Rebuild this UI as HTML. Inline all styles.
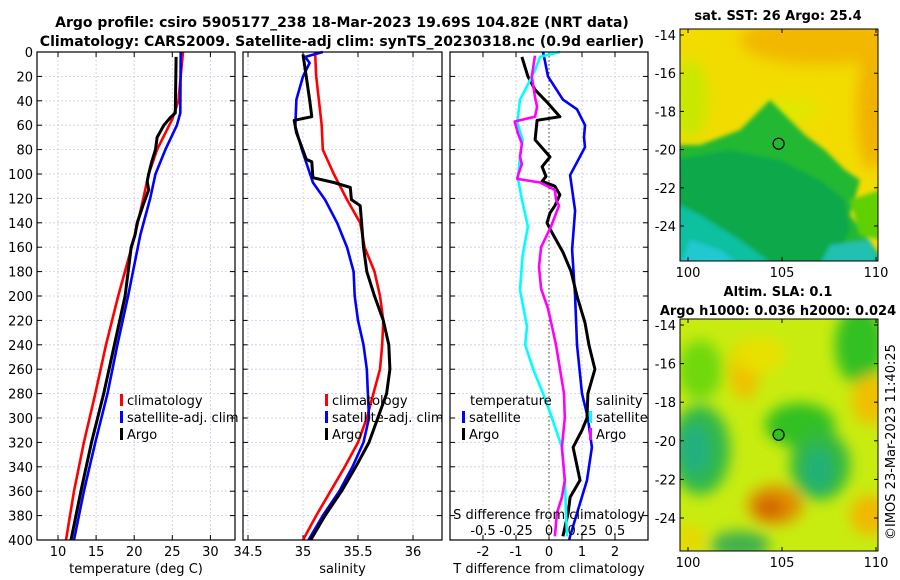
<!DOCTYPE html>
<html><head><meta charset="utf-8"><style>
body{margin:0;background:#fff;}
svg{display:block;font-family:"DejaVu Sans","Liberation Sans",sans-serif;}
</style></head><body>
<svg id="fig" width="900" height="580" viewBox="0 0 900 580" xmlns="http://www.w3.org/2000/svg">
<defs>
<filter id="bl" x="-20%" y="-20%" width="140%" height="140%"><feGaussianBlur stdDeviation="7"/></filter>
<filter id="bl2" x="-20%" y="-20%" width="140%" height="140%"><feGaussianBlur stdDeviation="2"/></filter>
<clipPath id="c1"><rect x="680" y="29" width="198" height="232"/></clipPath>
<clipPath id="c2"><rect x="680" y="319" width="198" height="232"/></clipPath>
</defs>
<text x="342" y="27" font-size="14" font-weight="bold" text-anchor="middle">Argo profile: csiro 5905177_238 18-Mar-2023 19.69S 104.82E (NRT data)</text>
<text x="342" y="46" font-size="14" font-weight="bold" text-anchor="middle">Climatology: CARS2009. Satellite-adj clim: synTS_20230318.nc (0.9d earlier)</text>
<g id="p1"></g>
<g id="p2"></g>
<g id="p3"></g>

<g>
<text x="778" y="20" font-size="13" font-weight="bold" text-anchor="middle">sat. SST: 26 Argo: 25.4</text>
<g clip-path="url(#c1)">
<rect x="680" y="29" width="198" height="232" fill="#f2dc00"/>
<g filter="url(#bl)">
<ellipse cx="820" cy="40" rx="80" ry="25" fill="#f2b800"/>
<ellipse cx="872" cy="110" rx="15" ry="60" fill="#f2b000"/>
<ellipse cx="690" cy="100" rx="18" ry="40" fill="#c8e800"/>
<ellipse cx="790" cy="110" rx="30" ry="12" fill="#e0e800"/>
</g>
<g filter="url(#bl2)">
<polygon points="670,145 700,145 740,130 770,100 790,120 805,135 825,150 845,170 860,180 850,215 865,235 880,255 880,270 670,270" fill="#20b830"/>
<polygon points="670,160 730,150 780,160 820,180 845,200 850,230 830,270 670,270" fill="#10a848"/>
<polygon points="670,200 700,215 740,240 770,262 670,265" fill="#10c0a0"/>
<polygon points="690,240 720,250 740,265 680,265" fill="#20c8d0"/>
<polygon points="830,245 870,240 880,265 820,265" fill="#20c0b0"/>
<polygon points="850,200 880,190 880,240 860,235" fill="#60d000"/>
</g>
</g>
<rect x="680" y="29" width="198" height="232" fill="none" stroke="#000" stroke-width="1"/>
<circle cx="778.6" cy="143.7" r="5.5" fill="none" stroke="#000" stroke-width="1.2"/>
<g id="m1t" font-size="13"></g>
</g>

<g>
<text x="778" y="296" font-size="13" font-weight="bold" text-anchor="middle">Altim. SLA: 0.1</text>
<text x="778" y="315" font-size="13" font-weight="bold" text-anchor="middle">Argo h1000: 0.036 h2000: 0.024</text>
<g clip-path="url(#c2)">
<rect x="680" y="319" width="198" height="232" fill="#c8ec10"/>
<g filter="url(#bl)">
<ellipse cx="700" cy="370" rx="22" ry="30" fill="#70d810"/>
<ellipse cx="745" cy="370" rx="15" ry="30" fill="#f0c000"/>
<ellipse cx="760" cy="355" rx="25" ry="18" fill="#e8e000"/>
<ellipse cx="860" cy="345" rx="25" ry="40" fill="#30c020"/>
<ellipse cx="800" cy="425" rx="35" ry="22" fill="#30c020"/>
<ellipse cx="700" cy="450" rx="30" ry="45" fill="#30b848"/>
<ellipse cx="695" cy="450" rx="15" ry="25" fill="#20b080"/>
<ellipse cx="820" cy="465" rx="30" ry="35" fill="#30b840"/>
<ellipse cx="818" cy="470" rx="14" ry="22" fill="#20b078"/>
<ellipse cx="775" cy="505" rx="28" ry="20" fill="#e09000"/>
<ellipse cx="770" cy="508" rx="14" ry="10" fill="#d06000"/>
<ellipse cx="870" cy="400" rx="18" ry="25" fill="#f0c000"/>
<ellipse cx="870" cy="515" rx="20" ry="20" fill="#f0b800"/>
<ellipse cx="740" cy="545" rx="30" ry="14" fill="#40b050"/>
<ellipse cx="690" cy="540" rx="15" ry="15" fill="#e8d800"/>
</g>
</g>
<rect x="680" y="319" width="198" height="232" fill="none" stroke="#000" stroke-width="1"/>
<circle cx="778.6" cy="434.8" r="5.5" fill="#30c020" stroke="#000" stroke-width="1.2"/>
<g id="m2t" font-size="13"></g>
</g>
<text transform="translate(895,540) rotate(-90)" font-size="13">©IMOS 23-Mar-2023 11:40:25</text>
</svg>
<script>
// ---- data ----
const tClimDepth=[0,40,55,80,100,120,150,200,240,280,320,360,400];
const tClimVal=[26.4,25.8,25.0,23.0,21.9,21.2,20.1,17.9,16.3,14.9,13.4,12.1,11.05];
const tSatDepth=[0,50,60,80,100,120,150,200,240,280,320,360,400];
const tSatVal=[26.1,26.05,25.6,24.1,22.8,22.1,20.8,19.2,17.8,16.5,14.9,13.4,12.1];
const tArgoDepth=[4,50,54,60,70,80,90,100,106,113,125,140,150,160,200,240,280,320,360,400];
const tArgoVal=[25.5,25.4,24.7,23.9,23.0,22.8,22.3,21.9,21.7,21.9,21.2,20.4,20.1,19.6,18.8,17.4,16.0,14.4,13.0,11.7];

const sClimDepth=[0,20,60,80,100,121,140,160,180,200,220,240,260,280,300,320,340,360,380,400];
const sClimVal=[35.11,35.12,35.17,35.18,35.28,35.40,35.52,35.56,35.65,35.70,35.73,35.72,35.70,35.64,35.58,35.50,35.38,35.25,35.12,35.0];
const sSatDepth=[0,4,9,20,39,61,80,107,121,140,160,180,200,220,240,260,280,300,320,340,360,380,400];
const sSatVal=[35.18,35.02,35.06,35.0,34.94,34.93,34.99,35.09,35.2,35.31,35.40,35.46,35.47,35.50,35.55,35.58,35.59,35.60,35.55,35.45,35.33,35.18,35.05];
const sArgoDepth=[2,39,53,56,66,88,90,103,107,111,121,126,137,160,180,200,220,240,260,280,300,320,340,360,380,400];
const sArgoVal=[35.0,35.06,35.08,34.92,34.94,35.03,35.08,35.09,35.28,35.43,35.44,35.52,35.53,35.55,35.58,35.65,35.73,35.78,35.79,35.76,35.68,35.6,35.48,35.35,35.2,35.07];

const dTSatDepth=[0,20,39,47,60,70,78,101,130,162,200,240,280,300,324,351,378,397,400];
const dTSatVal=[-0.18,-0.03,0.42,0.85,1.09,1.06,1.09,0.64,0.79,0.70,0.79,0.85,1.0,1.18,1.30,1.15,0.85,0.64,0.61];
const dTArgoDepth=[4,20,31,42,53,56,72,86,94,102,106,110,117,126,132,140,148,164,180,200,222,240,260,280,300,310,324,351,365,378,397];
const dTArgoVal=[-0.82,-0.64,-0.42,-0.03,0.33,-0.36,-0.42,0.03,-0.21,-0.09,-0.21,0.18,0.33,0.18,0.03,-0.06,0.09,0.42,0.67,0.85,1.09,1.21,1.39,1.18,1.15,1.0,0.73,0.94,0.64,0.58,0.42];
const dSSatDepth=[0,4,15,31,39,58,72,86,104,121,143,167,195,225,240,260,280,300,324,351,397];
const dSSatVal=[0.083,-0.068,-0.106,-0.18,-0.22,-0.24,-0.2,-0.22,-0.235,-0.205,-0.16,-0.2,-0.22,-0.167,-0.18,-0.12,-0.045,0.023,0.098,0.12,0.136];
const dSArgoDepth=[3,20,37,45,53,57,67,75,86,92,101,104,107,113,121,126,143,160,176,194,210,225,240,260,280,300,324,351,365,378,397];
const dSArgoVal=[-0.106,-0.13,-0.106,-0.09,-0.106,-0.26,-0.235,-0.205,-0.22,-0.205,-0.235,-0.24,-0.068,0.045,0.053,0.076,0.015,-0.06,-0.076,-0.06,-0.008,0.023,0.053,0.083,0.114,0.12,0.098,0.12,0.098,0.06,0.045];

const depthTicks=[0,20,40,60,80,100,120,140,160,180,200,220,240,260,280,300,320,340,360,380,400];
const tTicks=[10,15,20,25,30];
const sTicks=[34.5,35,35.5,36];
const dTTicks=[-2,-1,0,1,2];
const dSTicks=[-0.5,-0.25,0,0.25,0.5];
const dSTickLabels=["-0.5","-0.25","0","0.25","0.5"];
const latTicks=[-14,-16,-18,-20,-22,-24];
const lonTicks=[100,105,110];

// ---- helpers ----
const NS="http://www.w3.org/2000/svg";
const Y0=52,Y1=540;
const yD=d=>Y0+(d/400)*(Y1-Y0);
function mk(tag,attrs,parent){const e=document.createElementNS(NS,tag);for(const k in attrs)e.setAttribute(k,attrs[k]);parent.appendChild(e);return e;}
function line(xs,ds,sx,col,g,name,w){
  const pts=xs.map((v,i)=>sx(v).toFixed(1)+","+yD(ds[i]).toFixed(1)).join(" ");
  const e=mk("polyline",{points:pts,fill:"none",stroke:col,"stroke-width":w||2.6,"stroke-linejoin":"round"},g);
  
  
}
function panel(g,L,R,xTicks,sx,labels,xlabel,showDepth){
  for(const d of depthTicks){const y=yD(d);
    mk("line",{x1:L,x2:R,y1:y,y2:y,stroke:"#c8cce8","stroke-width":0.8,"stroke-dasharray":"2,2"},g);
    mk("line",{x1:L,x2:L+5,y1:y,y2:y,stroke:"#000"},g);mk("line",{x1:R-5,x2:R,y1:y,y2:y,stroke:"#000"},g);
    if(showDepth){const t=mk("text",{x:L-4,y:y+5,"font-size":13,"text-anchor":"end"},g);t.textContent=d;
      
      }
  }
  xTicks.forEach((v,i)=>{const x=sx(v);
    mk("line",{x1:x,x2:x,y1:Y0,y2:Y1,stroke:"#c8cce8","stroke-width":0.8,"stroke-dasharray":"2,2"},g);
    mk("line",{x1:x,x2:x,y1:Y1-5,y2:Y1,stroke:"#000"},g);mk("line",{x1:x,x2:x,y1:Y0,y2:Y0+5,stroke:"#000"},g);
    const t=mk("text",{x:x,y:556,"font-size":13,"text-anchor":"middle"},g);t.textContent=labels[i];
    
    
  });
  const xl=mk("text",{x:(L+R)/2,y:573,"font-size":13,"text-anchor":"middle"},g);xl.textContent=xlabel;
  
  
}
function frame(g,L,R){mk("rect",{x:L,y:Y0,width:R-L,height:Y1-Y0,fill:"none",stroke:"#000","stroke-width":1.2},g);}
function legend(g,x,y,items){items.forEach((it,i)=>{
  mk("rect",{x:x,y:y+i*17-11,width:3,height:12,fill:it[1]},g);
  const t=mk("text",{x:x+7,y:y+i*17,"font-size":13},g);t.textContent=it[0];
  
  
});}

// panel 1
const g1=document.getElementById("p1");
const sxT=v=>58+(v-10)*7.62;
panel(g1,37,235,tTicks,sxT,tTicks.map(String),"temperature (deg C)",true);
line(tClimVal,tClimDepth,sxT,"#ff0000",g1,"temp-climatology-line");
line(tSatVal,tSatDepth,sxT,"#0000ff",g1,"temp-satellite-line");
line(tArgoVal,tArgoDepth,sxT,"#000000",g1,"temp-argo-line",3);
frame(g1,37,235);
legend(g1,120,405,[["climatology","#ff0000"],["satellite-adj. clim","#0000ff"],["Argo","#000"]]);

// panel 2
const g2=document.getElementById("p2");
const sxS=v=>303+(v-35)*110;
panel(g2,243,442,sTicks,sxS,sTicks.map(String),"salinity",false);
line(sClimVal,sClimDepth,sxS,"#ff0000",g2,"sal-climatology-line");
line(sSatVal,sSatDepth,sxS,"#0000ff",g2,"sal-satellite-line");
line(sArgoVal,sArgoDepth,sxS,"#000000",g2,"sal-argo-line",3);
frame(g2,243,442);
legend(g2,325,405,[["climatology","#ff0000"],["satellite-adj. clim","#0000ff"],["Argo","#000"]]);

// panel 3
const g3=document.getElementById("p3");
const sxDT=v=>549+v*33;
const sxDS=v=>549+v*132;
panel(g3,450,648,dTTicks,sxDT,dTTicks.map(String),"T difference from climatology",false);
mk("line",{x1:549,x2:549,y1:Y0,y2:Y1,stroke:"#404020","stroke-width":1,"stroke-dasharray":"1.5,2.5"},g3);
line(dTSatVal,dTSatDepth,sxDT,"#0000ff",g3,"tdiff-satellite-line");
line(dTArgoVal,dTArgoDepth,sxDT,"#000000",g3,"tdiff-argo-line",3);
line(dSSatVal,dSSatDepth,sxDS,"#00ffff",g3,"sdiff-satellite-line");
line(dSArgoVal,dSArgoDepth,sxDS,"#ff00ff",g3,"sdiff-argo-line");
frame(g3,450,648);
{const t=mk("text",{x:470,y:405,"font-size":13},g3);t.textContent="temperature";


const t2=mk("text",{x:596,y:405,"font-size":13},g3);t2.textContent="salinity";

}
legend(g3,462,422,[["satellite","#0000ff"],["Argo","#000"]]);
legend(g3,589,422,[["satellite","#00ffff"],["Argo","#ff00ff"]]);
{const t=mk("text",{x:549,y:519,"font-size":13,"text-anchor":"middle"},g3);t.textContent="S difference from climatology";

}
dSTicks.forEach((v,i)=>{const t=mk("text",{x:sxDS(v),y:535,"font-size":13,"text-anchor":"middle"},g3);t.textContent=dSTickLabels[i];
  
  });

// maps ticks
function mapTicks(id,top,bottom,latY){
  const g=document.getElementById(id);
  latTicks.forEach(v=>{const y=latY(v);
    mk("line",{x1:680,x2:684,y1:y,y2:y,stroke:"#000"},g);mk("line",{x1:874,x2:878,y1:y,y2:y,stroke:"#000"},g);
    const t=mk("text",{x:676,y:y+5,"text-anchor":"end","font-size":13},g);t.textContent=v;
    
    });
  lonTicks.forEach(v=>{const x=688+(v-100)*18.8;
    mk("line",{x1:x,x2:x,y1:bottom-4,y2:bottom,stroke:"#000"},g);mk("line",{x1:x,x2:x,y1:top,y2:top+4,stroke:"#000"},g);
    const t=mk("text",{x:x,y:bottom+16,"text-anchor":"middle","font-size":13},g);t.textContent=v;
    
    });
}
mapTicks("m1t",29,261,v=>35+(-14-v)*19.1);
mapTicks("m2t",319,551,v=>325+(-14-v)*19.3);
</script>
</body></html>
